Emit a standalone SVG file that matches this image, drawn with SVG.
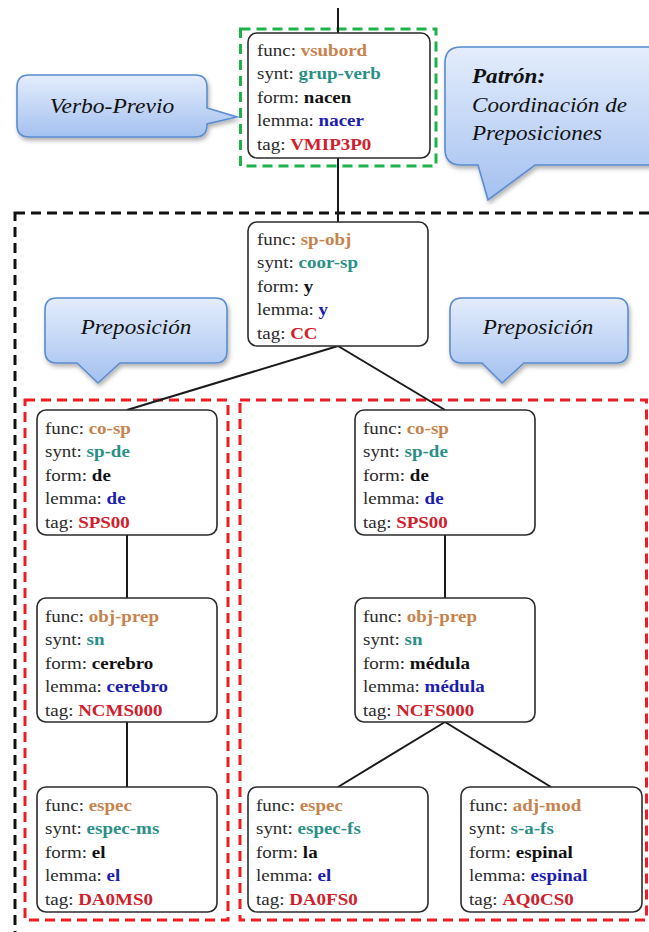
<svg xmlns="http://www.w3.org/2000/svg" width="649" height="932" viewBox="0 0 649 932">
  <style>
    .node rect { fill: #ffffff; stroke: #2b2b2b; stroke-width: 1.6; }
    .attr text { font-family: 'Liberation Serif', 'DejaVu Serif', serif; font-size: 16.5px; fill: #2a2a2a; }
    .v { font-weight: bold; }
    .fn { fill: #c7834d; }
    .sy { fill: #2a9086; }
    .fo { fill: #111111; }
    .le { fill: #1c1cb0; }
    .tg { fill: #d0202c; }
    .conn line { stroke: #1a1a1a; stroke-width: 2; }
    .callout path { fill: url(#calloutFill); stroke: #5a8ccf; stroke-width: 1.6; filter: url(#shadow); }
    .ctext { font-family: 'Liberation Serif', 'DejaVu Serif', serif; font-style: italic; font-size: 21px; fill: #111111; }
    .frame { fill: none; stroke-width: 3; stroke-dasharray: 10 6; }
  </style>
  <defs>
    <linearGradient id="calloutFill" x1="0" y1="0" x2="0" y2="1">
      <stop offset="0" stop-color="#e4edfc"/>
      <stop offset="1" stop-color="#a4c1f0"/>
    </linearGradient>
    <filter id="shadow" x="-10%" y="-10%" width="125%" height="130%">
      <feDropShadow dx="1.5" dy="3" stdDeviation="2" flood-color="#000000" flood-opacity="0.3"/>
    </filter>
  </defs>

  <!-- pattern frames -->
  <rect class="frame" x="15" y="213" width="700" height="760" stroke="#111111"/>
  <rect class="frame" x="25" y="400" width="203" height="520" stroke="#ee1c24"/>
  <rect class="frame" x="240" y="400" width="406.5" height="520" stroke="#ee1c24"/>
  <rect class="frame" x="240.5" y="29" width="195.5" height="137" stroke="#1fb24a" stroke-dasharray="9 5"/>

  <!-- tree edges -->
  <g id="connectors" class="conn">
    <line x1="338" y1="8" x2="338" y2="33"/>
    <line x1="338" y1="158" x2="338" y2="222"/>
    <line x1="338" y1="346" x2="127" y2="410"/>
    <line x1="338" y1="346" x2="445" y2="410"/>
    <line x1="127" y1="535" x2="127" y2="598"/>
    <line x1="445" y1="535" x2="445" y2="598"/>
    <line x1="127" y1="722" x2="127" y2="787"/>
    <line x1="445" y1="722" x2="338" y2="787"/>
    <line x1="445" y1="722" x2="551" y2="787"/>
  </g>

  <!-- callouts -->
  <g id="callout-verbo" class="callout">
    <path d="M29,75 H195 Q207,75 207,87 V108 L237,117 L207,124 V125 Q207,137 195,137 H29 Q17,137 17,125 V87 Q17,75 29,75 Z"/>
    <text class="ctext" font-family="Liberation Serif, serif" transform="translate(112,113) scale(1.12 1)" text-anchor="middle">Verbo-Previo</text>
  </g>
  <g id="callout-patron" class="callout">
    <path d="M461,47 H665 V165 H535 L488,200 L478,165 H461 Q445,165 445,149 V63 Q445,47 461,47 Z"/>
    <g transform="translate(472,0) scale(1.1 1)" font-family="Liberation Serif, serif">
      <text class="ctext" y="83" font-weight="bold">Patrón:</text>
      <text class="ctext" y="112">Coordinación de</text>
      <text class="ctext" y="140">Preposiciones</text>
    </g>
  </g>
  <g id="callout-prep-left" class="callout">
    <path d="M57,298 H215 Q227,298 227,310 V351 Q227,363 215,363 H120 L98,383 L77,363 H57 Q45,363 45,351 V310 Q45,298 57,298 Z"/>
    <text class="ctext" font-family="Liberation Serif, serif" transform="translate(136,334) scale(1.1 1)" text-anchor="middle">Preposición</text>
  </g>
  <g id="callout-prep-right" class="callout">
    <path d="M462,298 H616 Q628,298 628,310 V351 Q628,363 616,363 H524 L502,383 L482,363 H462 Q450,363 450,351 V310 Q450,298 462,298 Z"/>
    <text class="ctext" font-family="Liberation Serif, serif" transform="translate(538,334) scale(1.1 1)" text-anchor="middle">Preposición</text>
  </g>

  <!-- nodes -->
  <g id="n-vsubord" class="node">
    <rect x="248" y="33" width="182" height="125" rx="9"/>
    <g class="attr" font-family="Liberation Serif, serif" transform="translate(257,56) scale(1.15 1)">
      <text y="0">func: <tspan class="v fn">vsubord</tspan></text>
      <text y="23.5">synt: <tspan class="v sy">grup-verb</tspan></text>
      <text y="47">form: <tspan class="v fo">nacen</tspan></text>
      <text y="70.5">lemma: <tspan class="v le">nacer</tspan></text>
      <text y="94">tag: <tspan class="v tg">VMIP3P0</tspan></text>
    </g>
  </g>
  <g id="n-coor" class="node">
    <rect x="248" y="222" width="180" height="124" rx="9"/>
    <g class="attr" font-family="Liberation Serif, serif" transform="translate(257,245) scale(1.15 1)">
      <text y="0">func: <tspan class="v fn">sp-obj</tspan></text>
      <text y="23.5">synt: <tspan class="v sy">coor-sp</tspan></text>
      <text y="47">form: <tspan class="v fo">y</tspan></text>
      <text y="70.5">lemma: <tspan class="v le">y</tspan></text>
      <text y="94">tag: <tspan class="v tg">CC</tspan></text>
    </g>
  </g>
  <g id="n-prep-left" class="node">
    <rect x="37" y="410" width="180" height="125" rx="9"/>
    <g class="attr" font-family="Liberation Serif, serif" transform="translate(45,434) scale(1.15 1)">
      <text y="0">func: <tspan class="v fn">co-sp</tspan></text>
      <text y="23.5">synt: <tspan class="v sy">sp-de</tspan></text>
      <text y="47">form: <tspan class="v fo">de</tspan></text>
      <text y="70.5">lemma: <tspan class="v le">de</tspan></text>
      <text y="94">tag: <tspan class="v tg">SPS00</tspan></text>
    </g>
  </g>
  <g id="n-prep-right" class="node">
    <rect x="355" y="410" width="180" height="125" rx="9"/>
    <g class="attr" font-family="Liberation Serif, serif" transform="translate(363,434) scale(1.15 1)">
      <text y="0">func: <tspan class="v fn">co-sp</tspan></text>
      <text y="23.5">synt: <tspan class="v sy">sp-de</tspan></text>
      <text y="47">form: <tspan class="v fo">de</tspan></text>
      <text y="70.5">lemma: <tspan class="v le">de</tspan></text>
      <text y="94">tag: <tspan class="v tg">SPS00</tspan></text>
    </g>
  </g>
  <g id="n-obj-left" class="node">
    <rect x="37" y="598" width="180" height="124" rx="9"/>
    <g class="attr" font-family="Liberation Serif, serif" transform="translate(45,622) scale(1.15 1)">
      <text y="0">func: <tspan class="v fn">obj-prep</tspan></text>
      <text y="23.5">synt: <tspan class="v sy">sn</tspan></text>
      <text y="47">form: <tspan class="v fo">cerebro</tspan></text>
      <text y="70.5">lemma: <tspan class="v le">cerebro</tspan></text>
      <text y="94">tag: <tspan class="v tg">NCMS000</tspan></text>
    </g>
  </g>
  <g id="n-obj-right" class="node">
    <rect x="355" y="598" width="180" height="124" rx="9"/>
    <g class="attr" font-family="Liberation Serif, serif" transform="translate(363,622) scale(1.15 1)">
      <text y="0">func: <tspan class="v fn">obj-prep</tspan></text>
      <text y="23.5">synt: <tspan class="v sy">sn</tspan></text>
      <text y="47">form: <tspan class="v fo">médula</tspan></text>
      <text y="70.5">lemma: <tspan class="v le">médula</tspan></text>
      <text y="94">tag: <tspan class="v tg">NCFS000</tspan></text>
    </g>
  </g>
  <g id="n-det-left" class="node">
    <rect x="37" y="787" width="180" height="125" rx="9"/>
    <g class="attr" font-family="Liberation Serif, serif" transform="translate(45,811) scale(1.15 1)">
      <text y="0">func: <tspan class="v fn">espec</tspan></text>
      <text y="23.5">synt: <tspan class="v sy">espec-ms</tspan></text>
      <text y="47">form: <tspan class="v fo">el</tspan></text>
      <text y="70.5">lemma: <tspan class="v le">el</tspan></text>
      <text y="94">tag: <tspan class="v tg">DA0MS0</tspan></text>
    </g>
  </g>
  <g id="n-det-right" class="node">
    <rect x="248" y="787" width="180" height="125" rx="9"/>
    <g class="attr" font-family="Liberation Serif, serif" transform="translate(256,811) scale(1.15 1)">
      <text y="0">func: <tspan class="v fn">espec</tspan></text>
      <text y="23.5">synt: <tspan class="v sy">espec-fs</tspan></text>
      <text y="47">form: <tspan class="v fo">la</tspan></text>
      <text y="70.5">lemma: <tspan class="v le">el</tspan></text>
      <text y="94">tag: <tspan class="v tg">DA0FS0</tspan></text>
    </g>
  </g>
  <g id="n-adj" class="node">
    <rect x="461" y="787" width="181" height="125" rx="9"/>
    <g class="attr" font-family="Liberation Serif, serif" transform="translate(469,811) scale(1.15 1)">
      <text y="0">func: <tspan class="v fn">adj-mod</tspan></text>
      <text y="23.5">synt: <tspan class="v sy">s-a-fs</tspan></text>
      <text y="47">form: <tspan class="v fo">espinal</tspan></text>
      <text y="70.5">lemma: <tspan class="v le">espinal</tspan></text>
      <text y="94">tag: <tspan class="v tg">AQ0CS0</tspan></text>
    </g>
  </g>
</svg>
